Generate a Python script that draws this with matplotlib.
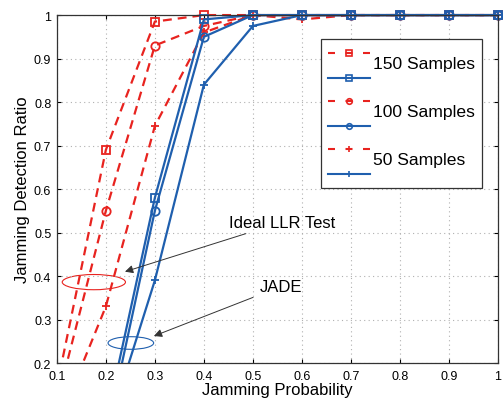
import numpy as np
import matplotlib
matplotlib.use("Agg")
import matplotlib.pyplot as plt
from matplotlib.lines import Line2D
from matplotlib.patches import Ellipse, Rectangle

plt.rcParams['font.family'] = ['Liberation Sans', 'DejaVu Sans']

# data
jam_prob = [0.1, 0.2, 0.3, 0.4, 0.5, 0.6, 0.7, 0.8, 0.9, 1.0]

llr_150 = [0.146, 0.69, 0.985, 1.0, 1.0, 1.0, 1.0, 1.0, 1.0, 1.0]
llr_100 = [0.11, 0.55, 0.93, 0.975, 1.0, 1.0, 1.0, 1.0, 1.0, 1.0]
llr_50 = [0.053, 0.33, 0.745, 0.96, 1.0, 0.99, 1.0, 1.0, 1.0, 1.0]

jade_150 = [0.0, 0.063, 0.58, 0.99, 1.0, 1.0, 1.0, 1.0, 1.0, 1.0]
jade_100 = [0.0, 0.028, 0.55, 0.95, 1.0, 1.0, 1.0, 1.0, 1.0, 1.0]
jade_50 = [0.0, 0.032, 0.39, 0.84, 0.975, 1.0, 1.0, 1.0, 1.0, 1.0]

labels = ['150 Samples', '100 Samples', '50 Samples']
markers = ['s', 'o', '+']

red = '#e8231f'
blue = '#1f5fae'
dash = (0, (4, 2.7))

xticks = [0.1, 0.2, 0.3, 0.4, 0.5, 0.6, 0.7, 0.8, 0.9, 1]
yticks = [0.2, 0.3, 0.4, 0.5, 0.6, 0.7, 0.8, 0.9, 1]


class PairHandler:
    """red dashed handle above the blue solid one, label in between"""
    def legend_artist(self, legend, orig_handle, fontsize, handlebox):
        r, b = orig_handle
        # box in points around the text baseline
        handlebox.ydescent = 12.2
        handlebox.height = 28.0
        x0 = -handlebox.xdescent
        w = handlebox.width
        xs = [x0, x0 + w / 2, x0 + w]
        l1 = Line2D(xs, [10.8] * 3, color=red, ls=(0, (3.36, 5.04)), lw=1.5,
                    marker=r, markevery=[1], ms=4, mfc='none', mew=1.2)
        l2 = Line2D(xs, [-7.2] * 3, color=blue, ls='-', lw=1.5,
                    marker=b, markevery=[1], ms=4, mfc='none', mew=1.2)
        handlebox.add_artist(l1)
        handlebox.add_artist(l2)
        return l1


fig = plt.figure(figsize=(5.03, 4.02), dpi=100)
ax = fig.add_axes([0.113, 0.0945, 0.877, 0.8655])

# clip at the bottom but let markers at the top/right edge show whole
clip = Rectangle((-0.05, 0), 1.1, 1.1, transform=ax.transAxes)

llr = [llr_150, llr_100, llr_50]
jade = [jade_150, jade_100, jade_50]
for i in range(3):
    ln, = ax.plot(jam_prob, llr[i], color=red, ls=dash, lw=1.6,
                  marker=markers[i], ms=6, mfc='none', mew=1.3)
    ln.set_clip_path(clip)
for i in range(3):
    ln, = ax.plot(jam_prob, jade[i], color=blue, ls='-', lw=1.6,
                  marker=markers[i], ms=6, mfc='none', mew=1.3)
    ln.set_clip_path(clip)

ax.set_xlim(0.1, 1)
ax.set_ylim(0.2, 1)
ax.set_xticks(xticks)
ax.set_xticklabels(['0.1', '0.2', '0.3', '0.4', '0.5', '0.6', '0.7', '0.8', '0.9', '1'])
ax.set_yticks(yticks)
ax.set_yticklabels(['0.2', '0.3', '0.4', '0.5', '0.6', '0.7', '0.8', '0.9', '1'])
ax.tick_params(labelsize=9, direction='in', length=3, top=True, right=True)
ax.tick_params(axis='x', pad=5)
ax.tick_params(axis='y', pad=4)
ax.grid(True, ls=(0, (1, 3)), color='#b0b0b0', lw=0.8)
for s in ax.spines.values():
    s.set_color('#333333')
    s.set_linewidth(0.9)

ax.set_xlabel('Jamming Probability', fontsize=12, labelpad=0)
ax.set_ylabel('Jamming Detection Ratio', fontsize=12, labelpad=3)

ax.add_patch(Ellipse((0.1755, 0.386), 0.129, 0.035, fill=False, ec=red, lw=0.8))
ax.add_patch(Ellipse((0.251, 0.246), 0.093, 0.029, fill=False, ec=blue, lw=0.8))

ax.annotate('Ideal LLR Test', xy=(0.239, 0.41), xytext=(0.452, 0.524),
            fontsize=12, va='center', ha='left',
            arrowprops=dict(arrowstyle='-|>', color='#333333', lw=0.7,
                            mutation_scale=12, shrinkA=3, shrinkB=0))
ax.annotate('JADE', xy=(0.298, 0.262), xytext=(0.514, 0.376),
            fontsize=12, va='center', ha='left',
            arrowprops=dict(arrowstyle='-|>', color='#333333', lw=0.7,
                            mutation_scale=12, shrinkA=3, shrinkB=0))

handles = [(m, m) for m in markers]
leg = ax.legend(handles, labels, handler_map={tuple: PairHandler()},
                loc='upper right', bbox_to_anchor=(0.964, 0.931),
                borderaxespad=0, fontsize=12.6, handlelength=2.4,
                labelspacing=0.52, handletextpad=0.17, borderpad=0.4,
                fancybox=False, edgecolor='#333333', framealpha=1)
leg.get_frame().set_linewidth(0.9)

fig.savefig('out.png', dpi=100)
